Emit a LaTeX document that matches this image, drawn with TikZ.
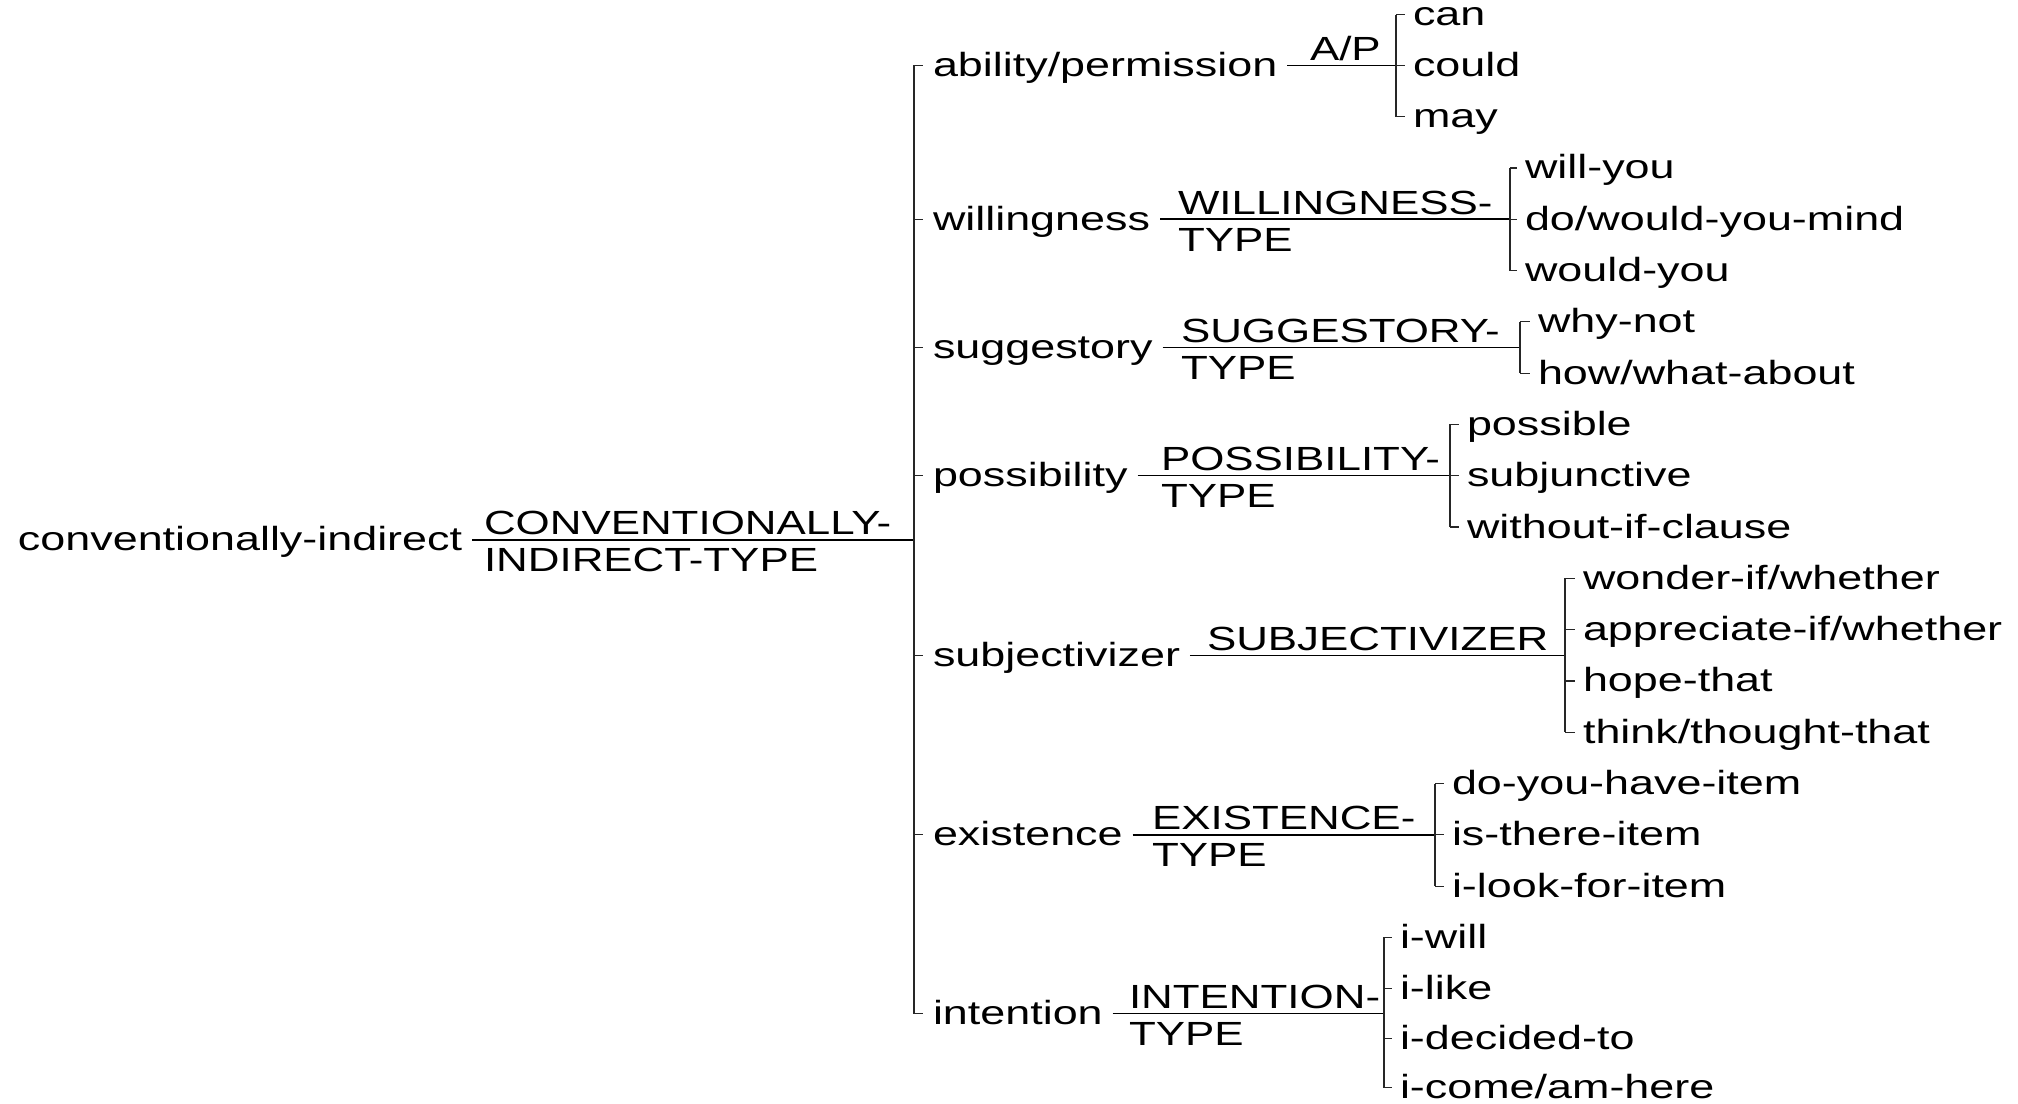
\documentclass[tikz,border=0pt]{standalone}
\usepackage{fontspec}
\setmainfont[FakeStretch=1.34]{Liberation Sans}
\newfontfamily\capsfont[FakeStretch=1.31]{Liberation Sans}
\begin{document}
\begin{tikzpicture}[x=0.5pt,y=-0.5pt,
  font=\fontsize{16.75pt}{18.5pt}\selectfont,
  every node/.style={inner ysep=0pt,outer sep=0pt},
  txt/.style={anchor=west,inner xsep=5pt,text height=14pt,text depth=3pt},
  leaf/.style={anchor=west,inner xsep=4pt,text height=14pt,text depth=3pt},
  lbl/.style={anchor=base west,inner xsep=0pt,font=\capsfont\fontsize{16.75pt}{18.5pt}\selectfont},
  ln/.style={line width=0.75pt,black},
  br/.style={line width=0.6pt,black!85}]
\useasboundingbox (0,0) rectangle (2018,1103);

% root
\node[txt] (root) at (8,539.8) {conventionally-indirect};
\coordinate (rj) at (914,539.8);
\draw[ln] (root.east) -- (rj);
\node[lbl] (rootlbl) at (484,534.8) {\begin{tabular}[t]{@{}l@{}}CONVENTIONALLY-\\INDIRECT-TYPE\end{tabular}};

% level 1
\node[txt] (ab) at (923,65.3) {ability/permission};
\node[txt] (wi) at (923,219.2) {willingness};
\node[txt] (su) at (923,347.45) {suggestory};
\node[txt] (po) at (923,475.7) {possibility};
\node[txt] (sj) at (923,655.25) {subjectivizer};
\node[txt] (ex) at (923,834.8) {existence};
\node[txt] (in) at (923,1013.5) {intention};
\draw[br] (ab.west -| rj) -- (in.west -| rj);
\foreach \n in {ab,wi,su,po,sj,ex,in} \draw[br] (\n.west -| rj) -- (\n.west);

% ability/permission
\coordinate (abj) at (1396,65.3);
\draw[ln] (ab.east) -- (abj);
\node[lbl] (abl) at (1310,60.3) {A/P};
\node[leaf] (ab1) at (1405,14.5) {can};
\node[leaf] (ab2) at (1405,65.3) {could};
\node[leaf] (ab3) at (1405,116.6) {may};
\draw[br] (ab1.west -| abj) -- (ab3.west -| abj);
\foreach \n in {ab1,ab2,ab3} \draw[br] (\n.west -| abj) -- (\n.west);

% willingness
\coordinate (wij) at (1510,219.2);
\draw[ln] (wi.east) -- (wij);
\node[lbl] (wil) at (1178,214.2) {\begin{tabular}[t]{@{}l@{}}WILLINGNESS-\\TYPE\end{tabular}};
\node[leaf] (wi1) at (1517,167.9) {will-you};
\node[leaf] (wi2) at (1517,219.2) {do/would-you-mind};
\node[leaf] (wi3) at (1517,270.5) {would-you};
\draw[br] (wi1.west -| wij) -- (wi3.west -| wij);
\foreach \n in {wi1,wi2,wi3} \draw[br] (\n.west -| wij) -- (\n.west);

% suggestory
\coordinate (suj) at (1520,347.45);
\draw[ln] (su.east) -- (suj);
\node[lbl] (sul) at (1181,342.45) {\begin{tabular}[t]{@{}l@{}}SUGGESTORY-\\TYPE\end{tabular}};
\node[leaf] (su1) at (1530,321.8) {why-not};
\node[leaf] (su2) at (1530,373.1) {how/what-about};
\draw[br] (su1.west -| suj) -- (su2.west -| suj);
\foreach \n in {su1,su2} \draw[br] (\n.west -| suj) -- (\n.west);

% possibility
\coordinate (poj) at (1450,475.7);
\draw[ln] (po.east) -- (poj);
\node[lbl] (pol) at (1161,470.7) {\begin{tabular}[t]{@{}l@{}}POSSIBILITY-\\TYPE\end{tabular}};
\node[leaf] (po1) at (1459,424.4) {possible};
\node[leaf] (po2) at (1459,475.7) {subjunctive};
\node[leaf] (po3) at (1459,527) {without-if-clause};
\draw[br] (po1.west -| poj) -- (po3.west -| poj);
\foreach \n in {po1,po2,po3} \draw[br] (\n.west -| poj) -- (\n.west);

% subjectivizer
\coordinate (sjj) at (1565,655.25);
\draw[ln] (sj.east) -- (sjj);
\node[lbl] (sjl) at (1207,650.25) {SUBJECTIVIZER};
\node[leaf] (sj1) at (1575,578.3) {wonder-if/whether};
\node[leaf] (sj2) at (1575,629.6) {appreciate-if/whether};
\node[leaf] (sj3) at (1575,680.9) {hope-that};
\node[leaf] (sj4) at (1575,732.2) {think/thought-that};
\draw[br] (sj1.west -| sjj) -- (sj4.west -| sjj);
\foreach \n in {sj1,sj2,sj3,sj4} \draw[br] (\n.west -| sjj) -- (\n.west);

% existence
\coordinate (exj) at (1435,834.8);
\draw[ln] (ex.east) -- (exj);
\node[lbl] (exl) at (1152,829.8) {\begin{tabular}[t]{@{}l@{}}EXISTENCE-\\TYPE\end{tabular}};
\node[leaf] (ex1) at (1444,783.5) {do-you-have-item};
\node[leaf] (ex2) at (1444,834.8) {is-there-item};
\node[leaf] (ex3) at (1444,886.1) {i-look-for-item};
\draw[br] (ex1.west -| exj) -- (ex3.west -| exj);
\foreach \n in {ex1,ex2,ex3} \draw[br] (\n.west -| exj) -- (\n.west);

% intention
\coordinate (inj) at (1384,1013.5);
\draw[ln] (in.east) -- (inj);
\node[lbl] (inl) at (1129,1008.5) {\begin{tabular}[t]{@{}l@{}}INTENTION-\\TYPE\end{tabular}};
\node[leaf] (in1) at (1392,937.4) {i-will};
\node[leaf] (in2) at (1392,988.2) {i-like};
\node[leaf] (in3) at (1392,1038.6) {i-decided-to};
\node[leaf] (in4) at (1392,1087.5) {i-come/am-here};
\draw[br] (in1.west -| inj) -- (in4.west -| inj);
\foreach \n in {in1,in2,in3,in4} \draw[br] (\n.west -| inj) -- (\n.west);
\end{tikzpicture}
\end{document}
